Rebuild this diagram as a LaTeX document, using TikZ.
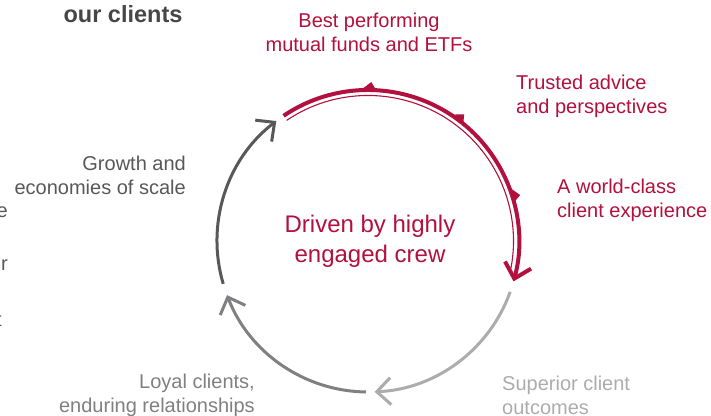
\documentclass[tikz,border=0pt]{standalone}
\usepackage{fontspec}
\setmainfont{Liberation Sans}
\usetikzlibrary{arrows.meta}

\definecolor{crimson}{RGB}{178,16,62}
\definecolor{inkgray}{RGB}{70,70,72}
\definecolor{slate}{RGB}{88,88,90}
\definecolor{midgray}{RGB}{128,128,130}
\definecolor{palegray}{RGB}{172,172,174}

\begin{document}
\begin{tikzpicture}[x=1pt, y=1pt,
  lbl/.style={font=\fontsize{20}{24}\selectfont, inner sep=0pt},
  barb/.style={-{Straight Barb[length=14pt, width=27pt]}}]
  \clip (0,0) rectangle (711,415);
  \coordinate (ctr) at (368,174);

  % the loop, clockwise
  \draw[crimson, line width=4pt, barb] ([shift={(124:151)}]ctr) arc[start angle=124, end angle=-15.5, radius=151];
  \draw[crimson, line width=1.1pt] ([shift={(124:145.5)}]ctr) arc[start angle=124, end angle=-11, radius=145.5];
  \draw[palegray, line width=3pt, barb] ([shift={(-19.7:151)}]ctr) arc[start angle=-19.7, end angle=-87.5, radius=151];
  \draw[midgray, line width=3pt, barb] ([shift={(-90.7:151)}]ctr) arc[start angle=-90.7, end angle=-159, radius=151];
  \draw[slate, line width=3pt, barb] ([shift={(196.5:151)}]ctr) arc[start angle=196.5, end angle=127.4, radius=151];

  % small flags on the red part
  \foreach \a in {90,54,18}
    \fill[crimson] ([shift={(\a+3.4:150)}]ctr) -- ([shift={(\a-1.2:159)}]ctr) -- ([shift={(\a-3.4:150)}]ctr) -- cycle;

  \node[lbl, font=\fontsize{23.5}{28}\selectfont\bfseries, text=inkgray] (title) at (123,401) {our clients};

  \node[lbl, text=crimson, align=center] (funds) at (369,382.5) {Best performing\\mutual funds and ETFs};
  \node[lbl, text=crimson, align=left, anchor=west] (advice) at (516,318.5) {Trusted advice\\and perspectives};
  \node[lbl, text=crimson, align=left, anchor=west] (experience) at (557,215) {A world-class\\client experience};
  \node[lbl, text=palegray, align=left, anchor=west] (outcomes) at (502,19.5) {Superior client\\outcomes};
  \node[lbl, text=midgray, align=right, anchor=east] (loyal) at (255,19.5) {Loyal clients,\\enduring relationships};
  \node[lbl, text=slate, align=right, anchor=east] (growth) at (186,240) {Growth and\\economies of scale};

  \node[lbl, font=\fontsize{24}{30}\selectfont, text=crimson, align=center] (crew) at (370,174) {Driven by highly\\engaged crew};

  % ends of the neighbouring column
  \node[lbl, text=slate, anchor=east] (fe) at (8,203) {e};
  \node[lbl, text=slate, anchor=east] (fr) at (8,150) {r};
  \node[lbl, text=slate, anchor=east] (ft) at (2,95) {t};
\end{tikzpicture}
\end{document}
